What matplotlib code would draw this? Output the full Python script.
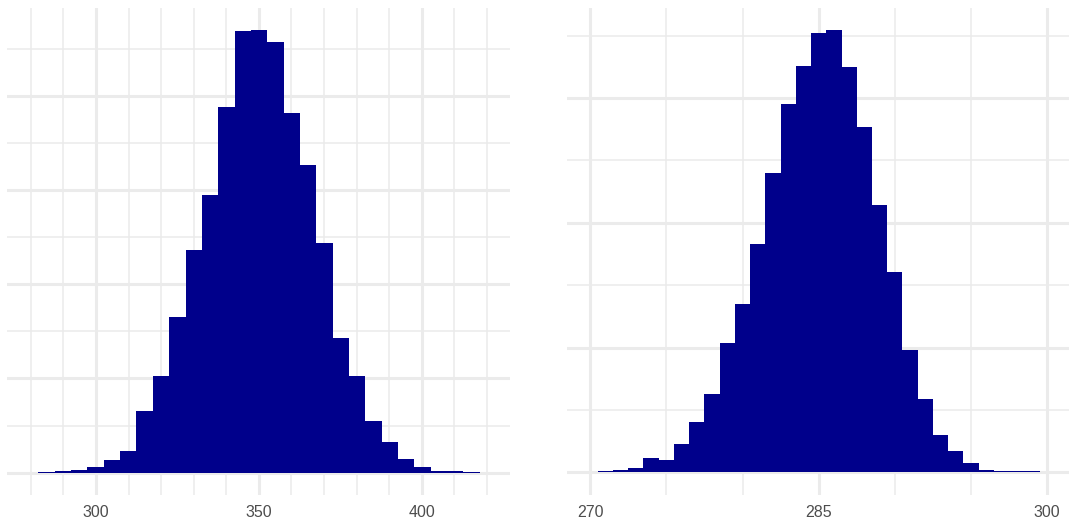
import numpy as np
import matplotlib.pyplot as plt

# left histogram: counts per bin (bins of width ~5 starting at 282.3)
left_start = 282.3
left_width = 5.02
left_counts = [1, 2, 3, 6, 13, 23, 65, 103, 165, 236, 295, 388, 469, 470,
               457, 382, 327, 244, 143, 103, 55, 33, 15, 6, 2, 2, 1]

# right histogram: counts per bin (bins of width 1 starting at 270.5)
right_start = 270.5
right_width = 1.0
right_counts = [2, 4, 7, 23, 20, 46, 81, 126, 208, 270, 366, 480, 590, 651,
                704, 709, 650, 554, 429, 321, 196, 118, 60, 35, 15, 4, 2, 2, 2]

left_ticks = [300, 350, 400]
left_minor = [280, 290, 310, 320, 330, 340, 360, 370, 380, 390, 410, 420]
right_ticks = [270, 285, 300]
right_minor = [275, 280, 290, 295]

bar_color = "#00008B"
grid_color = "#EBEBEB"

W, H = 1069, 521
fig = plt.figure(figsize=(W / 100, H / 100), dpi=100)
plt.rcParams["font.family"] = ["Liberation Sans", "DejaVu Sans"]


def panel(rect, start, width, counts, ticks, minor, xlim, ylim, ymajor, yminor):
    ax = fig.add_axes(rect)
    edges = start + width * np.arange(len(counts))
    ax.bar(edges, counts, width=width, align="edge", color=bar_color,
           linewidth=0, zorder=3)
    ax.set_xlim(*xlim)
    ax.set_ylim(*ylim)
    for x in ticks:
        ax.axvline(x, color=grid_color, lw=2.2, zorder=1)
    for x in minor:
        ax.axvline(x, color=grid_color, lw=1.1, zorder=1)
    for y in ymajor:
        ax.axhline(y, color=grid_color, lw=2.2, zorder=1)
    for y in yminor:
        ax.axhline(y, color=grid_color, lw=1.1, zorder=1)
    ax.set_xticks(ticks)
    ax.set_xticklabels([str(t) for t in ticks])
    ax.set_yticks([])
    ax.tick_params(axis="x", length=0, pad=7, labelsize=11.5, labelcolor="#4D4D4D")
    for s in ax.spines.values():
        s.set_visible(False)
    ax.set_facecolor("white")
    return ax


panel([7.3 / W, 26 / H, (510 - 7.3) / W, 487 / H],
      left_start, left_width, left_counts, left_ticks, left_minor,
      (272.77, 427.1), (-23.7, 493.3),
      [0, 100, 200, 300, 400], [50, 150, 250, 350, 450])

panel([567.3 / W, 26 / H, (1069 - 567.3) / W, 487 / H],
      right_start, right_width, right_counts, right_ticks, right_minor,
      (268.5, 301.43), (-36.1, 744.4),
      [0, 200, 400, 600], [100, 300, 500, 700])

fig.savefig("out.png", dpi=100, facecolor="white")
